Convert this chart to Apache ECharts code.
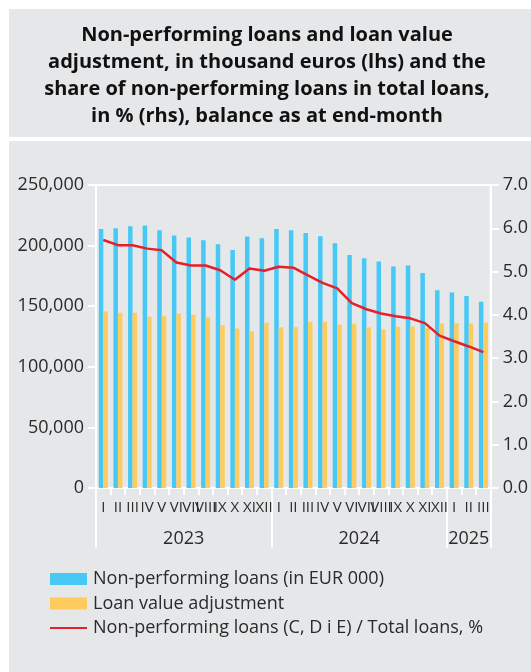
<!DOCTYPE html>
<html>
<head>
<meta charset="utf-8">
<script src="https://cdn.jsdelivr.net/npm/echarts@6/dist/echarts.min.js"></script>
<style>
html,body{margin:0;padding:0;background:#fff;}
#c{width:531px;height:672px;}
</style>
</head>
<body>
<div id="c"></div>
<script>
// ---- data ----
const monthLabels = ['I','II','III','IV','V','VI','VII','VIII','IX','X','XI','XII',
                     'I','II','III','IV','V','VI','VII','VIII','IX','X','XI','XII',
                     'I','II','III'];
const years = ['2023','2024','2025'];
const monthsPerYear = [12, 12, 3];
const nplValues = [213600,214400,216000,216600,212700,208400,206700,204500,201200,196400,207500,206000,
                   213600,212700,210300,207800,202000,192300,189600,186800,182700,183500,177400,163100,
                   161400,158400,153700];
const lvaValues = [145700,144600,144600,141300,142100,144000,143000,140700,134300,131600,129400,136300,
                   132700,132700,137200,137200,134900,135500,132400,130800,133000,133300,132200,135800,
                   136000,135800,136600];
const shareValues = [5.73,5.61,5.61,5.53,5.49,5.21,5.14,5.14,5.03,4.81,5.07,5.02,
                     5.11,5.09,4.91,4.74,4.61,4.27,4.13,4.03,3.97,3.92,3.81,3.52,
                     3.39,3.27,3.14];
const leftTicks = {min: 0, max: 250000, interval: 50000};
const rightTicks = {min: 0, max: 7, interval: 1};

// derived
const categories = monthLabels.map((m, i) => i + '|' + m);
const yearBounds = [0];
monthsPerYear.forEach(n => yearBounds.push(yearBounds[yearBounds.length - 1] + n));
const yearCenters = years.map((y, i) => (yearBounds[i] + yearBounds[i + 1]) / 2);

const FONT = '"Open Sans", "DejaVu Sans", sans-serif';
const TXT = '#2a2a2a';
const PANEL = '#e6e7e9';

const chart = echarts.init(document.getElementById('c'), null, {renderer: 'canvas'});
chart.setOption({
  backgroundColor: '#fff',
  animation: false,
  graphic: {
    elements: [
      {type: 'rect', z: -100, silent: true, shape: {x: 9, y: 9, width: 522, height: 128}, style: {fill: PANEL}},
      {type: 'rect', z: -100, silent: true, shape: {x: 9, y: 141, width: 522, height: 531}, style: {fill: PANEL}}
    ]
  },
  title: {
    text: 'Non-performing loans and loan value\nadjustment, in thousand euros (lhs) and the\nshare of non-performing loans in total loans,\nin % (rhs), balance as at end-month',
    left: 267,
    textAlign: 'center',
    top: 22,
    padding: 0,
    textStyle: {fontFamily: FONT, fontWeight: 'bold', fontSize: 20, lineHeight: 27, color: '#111'}
  },
  grid: {
    left: 96, right: 37, top: 185, bottom: 184,
    show: true, borderColor: '#fff', borderWidth: 2, backgroundColor: 'transparent'
  },
  legend: {
    orient: 'vertical',
    left: 49,
    top: 570,
    itemWidth: 37,
    itemHeight: 12,
    itemGap: 6.5,
    padding: 0,
    textStyle: {fontFamily: FONT, fontSize: 18, lineHeight: 18, color: TXT, padding: [0, 0, 0, 1]},
    data: [
      {name: 'Non-performing loans (in EUR 000)', icon: 'rect'},
      {name: 'Loan value adjustment', icon: 'rect'},
      {name: 'Non-performing loans (C, D i E) / Total loans, %', itemStyle: {opacity: 0}}
    ]
  },
  xAxis: [
    {
      type: 'category',
      data: categories,
      boundaryGap: true,
      axisLine: {show: true, lineStyle: {color: '#fff', width: 2}},
      axisTick: {show: true, interval: 0, length: 7, lineStyle: {color: '#fff', width: 2}},
      axisLabel: {interval: 0, margin: 12, fontFamily: FONT, fontSize: 15, color: TXT,
                  formatter: v => v.split('|')[1]},
      splitLine: {show: false}
    },
    {
      type: 'value',
      min: yearBounds[0],
      max: yearBounds[yearBounds.length - 1],
      position: 'bottom',
      axisLine: {show: false},
      axisTick: {show: true, customValues: yearBounds, length: 60, lineStyle: {color: '#fff', width: 2}},
      axisLabel: {show: true, customValues: yearCenters, margin: 42, fontFamily: FONT, fontSize: 18, color: TXT,
                  formatter: v => years[yearCenters.indexOf(v)]},
      splitLine: {show: false}
    }
  ],
  yAxis: [
    {
      type: 'value',
      min: leftTicks.min, max: leftTicks.max, interval: leftTicks.interval,
      axisLine: {show: true, lineStyle: {color: '#fff', width: 2}},
      axisTick: {show: true, length: 8, lineStyle: {color: '#fff', width: 2}},
      axisLabel: {margin: 12, fontFamily: FONT, fontSize: 18, color: TXT,
                  formatter: v => v.toLocaleString('en-US')},
      splitLine: {show: false}
    },
    {
      type: 'value',
      position: 'right',
      min: rightTicks.min, max: rightTicks.max, interval: rightTicks.interval,
      axisLine: {show: true, lineStyle: {color: '#fff', width: 2}},
      axisTick: {show: true, length: 8, lineStyle: {color: '#fff', width: 2}},
      axisLabel: {margin: 12, fontFamily: FONT, fontSize: 18, color: TXT,
                  formatter: v => v.toFixed(1)},
      splitLine: {show: false}
    }
  ],
  series: [
    {
      name: 'Non-performing loans (in EUR 000)',
      type: 'bar',
      data: nplValues,
      barWidth: 4.5,
      barGap: '0%',
      itemStyle: {color: '#47c8f5'}
    },
    {
      name: 'Loan value adjustment',
      type: 'bar',
      data: lvaValues,
      barWidth: 4.5,
      barGap: '0%',
      itemStyle: {color: '#fdcb5e'}
    },
    {
      name: 'Non-performing loans (C, D i E) / Total loans, %',
      type: 'line',
      yAxisIndex: 1,
      data: shareValues,
      symbol: 'none',
      lineStyle: {color: '#e4202a', width: 2.5},
      itemStyle: {color: '#e4202a'},
      z: 5
    }
  ]
});
</script>
</body>
</html>
